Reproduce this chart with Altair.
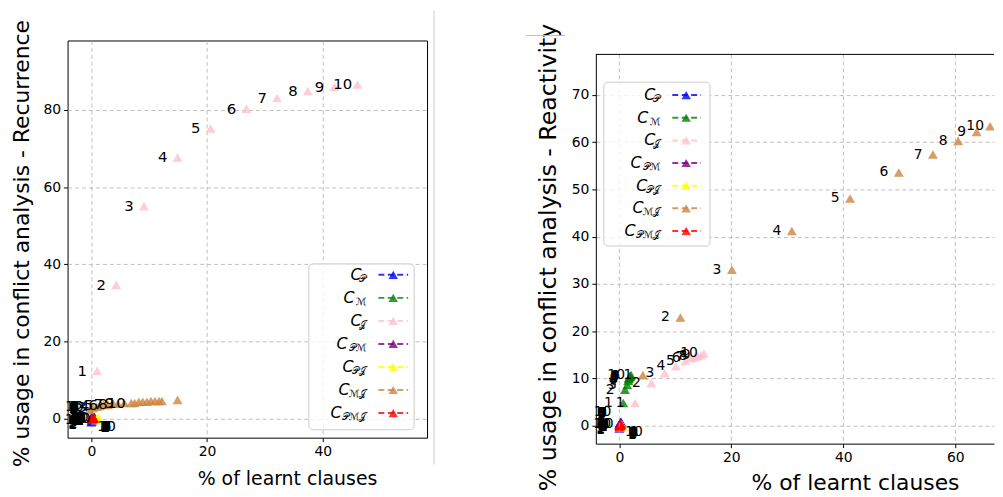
import altair as alt
import pandas as pd

SERIES = ["C_P", "C_M", "C_J", "C_PM", "C_PJ", "C_MJ", "C_PMJ"]
COLORS = ["blue", "green", "pink", "purple", "yellow", "peru", "red"]
SUBSCRIPTS = ["𝒫", "ℳ", "𝒥", "𝒫ℳ", "𝒫𝒥", "ℳ𝒥", "𝒫ℳ𝒥"]
POINT_LABELS = [str(i) for i in range(1, 11)]

# ---------------- Left panel: Recurrence ----------------
L_P_x = [0.0, 0.1, 0.1, 0.2, 0.2, 0.2, 0.3, 0.3, 0.3, 0.3]
L_P_y = [-0.9, -0.6, -0.4, -0.2, 0.0, 0.1, 0.2, 0.3, 0.4, 0.5]
L_M_x = [0.2, 0.3, 0.3, 0.4, 0.4, 0.4, 0.5, 0.5, 0.5, 0.5]
L_M_y = [0.0, 0.1, 0.2, 0.3, 0.3, 0.4, 0.4, 0.4, 0.5, 0.5]
L_J_x = [1.0, 4.3, 9.1, 14.9, 20.6, 26.8, 32.1, 37.4, 42.0, 46.0]
L_J_y = [12.4, 34.7, 55.1, 67.7, 75.2, 80.3, 83.1, 84.9, 86.0, 86.6]
L_PM_x = [0.0, 0.0, 0.1, 0.1, 0.1, 0.1, 0.2, 0.2, 0.2, 0.2]
L_PM_y = [0.0, 0.2, 0.3, 0.4, 0.5, 0.5, 0.6, 0.6, 0.6, 0.7]
L_PJ_x = [0.8, 0.9, 1.0, 1.0, 1.1, 1.1, 1.1, 1.2, 1.2, 1.2]
L_PJ_y = [-0.4, -0.2, -0.1, 0.0, 0.0, 0.1, 0.1, 0.1, 0.2, 0.2]
L_MJ_x = [-0.3, 0.3, 0.9, 1.4, 2.1, 2.9, 3.8, 4.6, 5.7, 6.9, 7.5, 8.2, 8.9, 9.6,
          10.3, 11.0, 11.7, 12.2, 14.9]
L_MJ_y = [2.3, 2.8, 3.1, 3.3, 3.6, 3.6, 3.9, 3.9, 4.1, 4.1, 4.1, 4.4, 4.4, 4.4,
          4.6, 4.6, 4.6, 4.6, 4.9]
L_PMJ_x = [0.1, 0.2, 0.3, 0.3, 0.3, 0.4, 0.4, 0.4, 0.4, 0.4]
L_PMJ_y = [-0.2, -0.1, 0.0, 0.0, 0.1, 0.1, 0.1, 0.2, 0.2, 0.2]

# ---------------- Right panel: Reactivity ----------------
R_P_x = [0.0, 0.1, 0.1, 0.1, 0.2, 0.2, 0.2, 0.2, 0.3, 0.3]
R_P_y = [-0.6, -0.3, 0.0, 0.2, 0.3, 0.4, 0.5, 0.6, 0.7, 0.8]
R_M_x = [0.7, 1.0, 1.4, 1.6, 1.7, 1.7, 1.9, 1.9, 1.9, 2.1]
R_M_y = [4.8, 7.6, 8.6, 9.5, 9.9, 10.1, 10.3, 10.5, 10.5, 10.7]
R_J_x = [2.8, 5.7, 8.1, 10.1, 11.8, 12.8, 13.5, 14.0, 14.6, 15.1]
R_J_y = [4.8, 9.0, 11.1, 12.6, 13.7, 14.3, 14.5, 14.7, 14.9, 15.3]
R_PM_x = [0.0, 0.0, 0.1, 0.1, 0.1, 0.1, 0.2, 0.2, 0.2, 0.2]
R_PM_y = [0.0, 0.2, 0.3, 0.4, 0.5, 0.5, 0.6, 0.6, 0.6, 0.7]
R_PJ_x = [0.1, 0.2, 0.2, 0.3, 0.3, 0.3, 0.4, 0.4, 0.4, 0.4]
R_PJ_y = [-0.3, -0.2, -0.1, 0.0, 0.0, 0.1, 0.1, 0.2, 0.2, 0.3]
R_MJ_x = [4.2, 10.9, 20.1, 30.8, 41.2, 49.9, 56.0, 60.5, 63.8, 66.2]
R_MJ_y = [10.7, 22.9, 33.0, 41.2, 48.1, 53.6, 57.4, 60.3, 62.2, 63.4]
R_PMJ_x = [0.0, 0.1, 0.1, 0.2, 0.2, 0.2, 0.2, 0.3, 0.3, 0.3]
R_PMJ_y = [-0.2, -0.1, 0.0, 0.1, 0.1, 0.2, 0.2, 0.2, 0.3, 0.3]

L_XTICKS = [0, 20, 40]
L_YTICKS = [0, 20, 40, 60, 80]
R_XTICKS = [0, 20, 40, 60]
R_YTICKS = [0, 10, 20, 30, 40, 50, 60, 70]

# annotation offsets (px) per series
LABEL_OFFSET = {"C_P": (-19, 2), "C_M": (-15, 0), "C_J": (-15, 0),
                "C_PM": (-18, -10), "C_PJ": (-17, 0), "C_MJ": (-15, 0),
                "C_PMJ": (13, 8)}
# approximate subscript widths in the legend (px)
SUB_W = [5, 12, 5, 19, 13, 17, 25]

GRID = dict(color="#b0b0b0", strokeDash=[4, 3], strokeWidth=0.8)


def long_df(xs_list, ys_list):
    rows = []
    k = 0
    for s, xs, ys in zip(SERIES, xs_list, ys_list):
        for i, (x, y) in enumerate(zip(xs, ys)):
            rows.append({"series": s, "x": x, "y": y, "k": k,
                         "lab": POINT_LABELS[i] if i < len(POINT_LABELS) else ""})
            k += 1
    return pd.DataFrame(rows)


left_df = long_df([L_P_x, L_M_x, L_J_x, L_PM_x, L_PJ_x, L_MJ_x, L_PMJ_x],
                  [L_P_y, L_M_y, L_J_y, L_PM_y, L_PJ_y, L_MJ_y, L_PMJ_y])
right_df = long_df([R_P_x, R_M_x, R_J_x, R_PM_x, R_PJ_x, R_MJ_x, R_PMJ_x],
                   [R_P_y, R_M_y, R_J_y, R_PM_y, R_PJ_y, R_MJ_y, R_PMJ_y])

one = pd.DataFrame({"a": [0]})


def legend_layers(box, ey0, edy, xr, dash, xt):
    x0, y0, x1, y1 = box
    layers = [alt.Chart(one).mark_rect(fill="white", fillOpacity=0.8, stroke="#cccccc",
                                       strokeWidth=1, cornerRadius=4).encode(
        x=alt.value(x0), x2=alt.value(x1), y=alt.value(y0), y2=alt.value(y1))]
    for i, (c, sub, w) in enumerate(zip(COLORS, SUBSCRIPTS, SUB_W)):
        yi = ey0 + i * edy
        layers.append(alt.Chart(one).mark_rule(color=c, strokeWidth=2, opacity=0.8,
                                               strokeDash=[6, 3.5]).encode(
            x=alt.value(dash[0]), x2=alt.value(dash[1]), y=alt.value(yi)))
        layers.append(alt.Chart(one).mark_point(shape="triangle-up", filled=True, size=90,
                                                opacity=0.8, color=c).encode(
            x=alt.value(xt), y=alt.value(yi)))
        layers.append(alt.Chart(one).mark_text(text="C", fontSize=16, fontStyle="italic",
                                               align="right", baseline="middle",
                                               color="black").encode(
            x=alt.value(xr - w), y=alt.value(yi)))
        layers.append(alt.Chart(one).mark_text(text=sub, fontSize=10, align="right",
                                               baseline="middle", color="black").encode(
            x=alt.value(xr), y=alt.value(yi + 4)))
    return layers


def panel(df, W, H, top, xdom, ydom, xticks, yticks, xt_size, yt_size, xtitle_xy,
          ytitle_xy, lab_size, framed, legend, extras):
    axis_common = dict(gridColor="#b0b0b0", gridDash=[4, 3], gridWidth=0.8,
                       domain=not framed, domainColor="black", domainWidth=1,
                       tickColor="black", tickSize=4, labelFontSize=14, labelColor="black",
                       labelPadding=3, format="d", titleFontWeight="normal",
                       titleColor="black")
    xax = alt.Axis(values=xticks, grid=(top == 0), title="% of learnt clauses",
                   titleFontSize=xt_size, titleX=xtitle_xy[0], titleY=xtitle_xy[1],
                   titleAlign="center", titleBaseline="top", **axis_common)
    yax = alt.Axis(values=yticks, grid=True,
                   title="% usage in conflict analysis - " + ytitle_xy[2],
                   titleFontSize=yt_size, titleX=ytitle_xy[0], titleY=ytitle_xy[1],
                   titleAlign="center", titleBaseline="bottom", titleAngle=270,
                   **axis_common)
    xs = alt.Scale(domain=xdom, nice=False, zero=False)
    ys = alt.Scale(domain=ydom, nice=False, zero=False, range=[H, top])
    layers = []
    pts = alt.Chart(df).mark_point(shape="triangle-up", filled=True, size=100,
                                   opacity=0.8, clip=not framed).encode(
        x=alt.X("x:Q", scale=xs, axis=xax),
        y=alt.Y("y:Q", scale=ys, axis=yax),
        color=alt.Color("series:N", scale=alt.Scale(domain=SERIES, range=COLORS),
                        legend=None),
        order=alt.Order("k:Q"),
    )
    layers.append(pts)
    if top != 0:
        # vertical grid lines limited to the visible frame
        layers.append(alt.Chart(pd.DataFrame({"x": xticks})).mark_rule(**GRID).encode(
            x=alt.X("x:Q", scale=xs), y=alt.value(top), y2=alt.value(H)))
    for s in SERIES:
        dx, dy = LABEL_OFFSET[s]
        layers.append(
            alt.Chart(df).transform_filter(alt.datum.series == s)
            .transform_filter(alt.datum.lab != "")
            .mark_text(dx=dx, dy=dy, fontSize=lab_size, color="black", align="center",
                       baseline="middle")
            .encode(x=alt.X("x:Q", scale=xs), y=alt.Y("y:Q", scale=ys),
                    text="lab:N")
        )
    layers += legend_layers(*legend)
    layers += extras
    ch = alt.layer(*layers).properties(width=W, height=H)
    if framed:
        ch = ch.properties(view=alt.ViewBackground(stroke="black", strokeWidth=1))
    return ch


LW, LH = 362, 400
RW, RH, RTOP = 401, 406, 14

left_extras = [
    alt.Chart(one).mark_rule(color="#cfcfcf", strokeWidth=1).encode(
        x=alt.value(369), y=alt.value(-30), y2=alt.value(427)),
]
right_extras = [
    alt.Chart(one).mark_rule(color="black", strokeWidth=1).encode(
        x=alt.value(0), x2=alt.value(RW), y=alt.value(RTOP)),
    alt.Chart(one).mark_rule(color="#bdbdbd", strokeWidth=1).encode(
        x=alt.value(-70), x2=alt.value(-31), y=alt.value(-5)),
]

left = panel(left_df, LW, LH, 0, [-4.1, 58.0], [-4.9, 98.0], L_XTICKS, L_YTICKS, 19, 22,
             (221, 32), (-34, 204, "Recurrence"), 15, True,
             ((243, 225, 349, 392), 236, 23.2, 301, (313, 343), 328), left_extras)
right = panel(right_df, RW, RH, RTOP, [-4.2, 66.9], [-3.8, 78.6], R_XTICKS, R_YTICKS,
              22, 23.8, (261, 29), (-36, 218, "Reactivity"), 14, False,
              ((8, 28 + RTOP, 115, 193 + RTOP), 41 + RTOP, 22.8, 65, (77, 106), 91),
              right_extras)

chart = alt.hconcat(left, right, spacing=91).properties(
    padding={"left": 2, "top": 0, "right": 0, "bottom": 0}
).configure(font="DejaVu Sans").configure_view(stroke=None)

chart.save("out.html", embed_options={"renderer": "svg", "actions": False})
